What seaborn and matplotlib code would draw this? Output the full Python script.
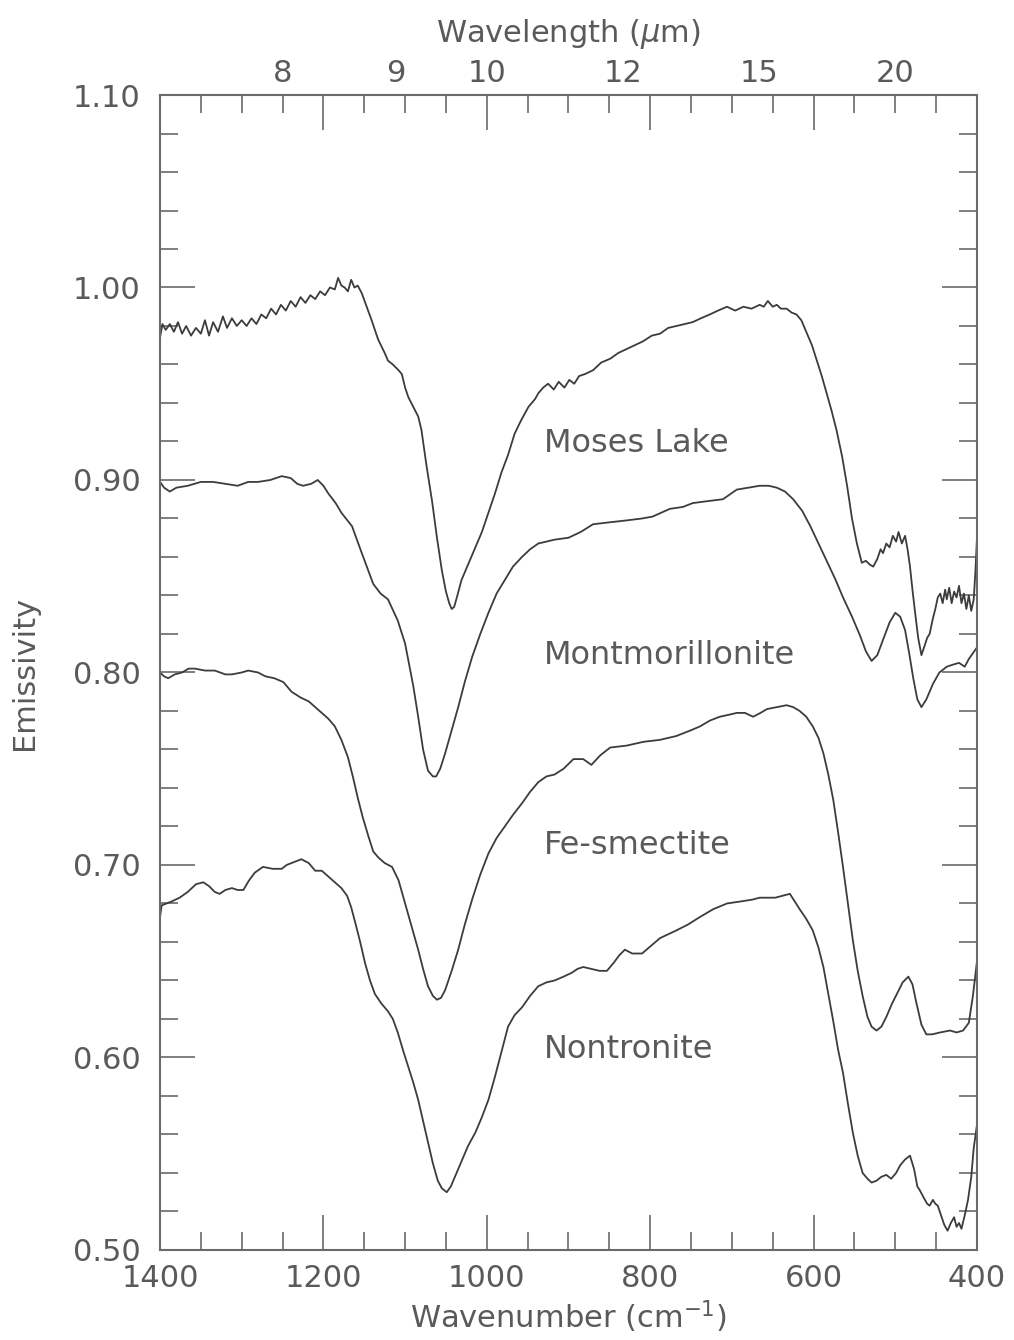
import numpy as np
import pandas as pd
import seaborn as sns
import matplotlib
matplotlib.use("Agg")
import matplotlib.pyplot as plt
from matplotlib.ticker import MultipleLocator, NullLocator, FormatStrFormatter

# Emissivity spectra (wavenumber in cm^-1)
moses_wn = [1400, 1397, 1393, 1388, 1383, 1378, 1373, 1368, 1362, 1356,
            1350, 1345, 1340, 1335, 1329, 1323, 1318, 1312, 1306, 1300,
            1294, 1288, 1282, 1276, 1270, 1264, 1258, 1252, 1246, 1240,
            1234, 1228, 1222, 1216, 1210, 1204, 1198, 1192, 1186, 1182,
            1178, 1174, 1170, 1166, 1162, 1158, 1153, 1147, 1141, 1133,
            1125, 1121, 1115, 1108, 1104, 1100, 1096, 1090, 1084, 1080,
            1074, 1067, 1061, 1055, 1050, 1046, 1043, 1040, 1036, 1031,
            1024, 1014, 1006, 998, 990, 982, 974, 966, 958, 949,
            941, 937, 931, 925, 918, 912, 905, 899, 893, 887,
            880, 870, 860, 849, 839, 829, 819, 809, 798, 788,
            778, 768, 758, 748, 738, 727, 717, 706, 696, 686,
            676, 666, 661, 656, 650, 645, 640, 633, 627, 621,
            615, 608, 602, 596, 590, 584, 578, 572, 565, 559,
            553, 547, 541, 536, 531, 527, 522, 518, 515, 511,
            507, 503, 499, 496, 492, 488, 485, 482, 479, 476,
            472, 468, 464, 461, 458, 454, 451, 448, 445, 442,
            439, 437, 434, 431, 428, 425, 422, 419, 416, 413,
            410, 407, 404, 402, 400]
moses_e = [0.974, 0.981, 0.978, 0.981, 0.977, 0.982, 0.976, 0.980, 0.975, 0.979,
           0.976, 0.983, 0.975, 0.982, 0.977, 0.985, 0.979, 0.984, 0.980, 0.983,
           0.980, 0.984, 0.981, 0.986, 0.984, 0.989, 0.986, 0.991, 0.988, 0.993,
           0.990, 0.995, 0.992, 0.996, 0.994, 0.998, 0.996, 1.000, 0.999, 1.005,
           1.001, 1.000, 0.998, 1.004, 1.000, 1.001, 0.997, 0.990, 0.983, 0.973,
           0.966, 0.962, 0.960, 0.957, 0.955, 0.948, 0.943, 0.938, 0.933, 0.926,
           0.908, 0.889, 0.870, 0.853, 0.842, 0.836, 0.833, 0.834, 0.840, 0.848,
           0.855, 0.865, 0.873, 0.883, 0.893, 0.904, 0.913, 0.924, 0.931, 0.938,
           0.942, 0.945, 0.948, 0.950, 0.947, 0.951, 0.948, 0.952, 0.950, 0.954,
           0.955, 0.957, 0.961, 0.963, 0.966, 0.968, 0.970, 0.972, 0.975, 0.976,
           0.979, 0.980, 0.981, 0.982, 0.984, 0.986, 0.988, 0.990, 0.988, 0.990,
           0.989, 0.991, 0.990, 0.993, 0.990, 0.991, 0.989, 0.989, 0.987, 0.986,
           0.983, 0.976, 0.970, 0.962, 0.954, 0.945, 0.936, 0.926, 0.912, 0.897,
           0.880, 0.867, 0.857, 0.858, 0.856, 0.855, 0.859, 0.864, 0.862, 0.867,
           0.865, 0.871, 0.868, 0.873, 0.867, 0.871, 0.864, 0.855, 0.843, 0.832,
           0.818, 0.809, 0.814, 0.818, 0.820, 0.828, 0.833, 0.839, 0.841, 0.836,
           0.843, 0.838, 0.844, 0.836, 0.842, 0.839, 0.845, 0.836, 0.841, 0.833,
           0.840, 0.832, 0.838, 0.852, 0.870]

montm_wn = [1400, 1395, 1388, 1380, 1366, 1350, 1335, 1320, 1305, 1292,
            1280, 1265, 1251, 1240, 1232, 1225, 1215, 1207, 1200, 1194,
            1185, 1178, 1165, 1153, 1139, 1130, 1121, 1109, 1100, 1090,
            1084, 1078, 1072, 1066, 1062, 1057, 1051, 1043, 1035, 1027,
            1018, 1008, 998, 988, 978, 968, 957, 947, 937, 927,
            917, 900, 885, 870, 850, 829, 810, 797, 776, 760,
            748, 730, 711, 694, 680, 666, 655, 645, 635, 625,
            614, 604, 594, 584, 574, 564, 553, 543, 536, 529,
            522, 515, 507, 500, 494, 488, 483, 478, 473, 468,
            462, 454, 446, 437, 430, 422, 415, 410, 405, 400]
montm_e = [0.899, 0.896, 0.894, 0.896, 0.897, 0.899, 0.899, 0.898, 0.897, 0.899,
           0.899, 0.900, 0.902, 0.901, 0.898, 0.897, 0.898, 0.900, 0.897, 0.893,
           0.888, 0.883, 0.876, 0.862, 0.846, 0.841, 0.838, 0.827, 0.815, 0.793,
           0.777, 0.760, 0.749, 0.746, 0.746, 0.750, 0.758, 0.770, 0.782, 0.795,
           0.808, 0.820, 0.831, 0.841, 0.848, 0.855, 0.860, 0.864, 0.867, 0.868,
           0.869, 0.870, 0.873, 0.877, 0.878, 0.879, 0.880, 0.881, 0.885, 0.886,
           0.888, 0.889, 0.890, 0.895, 0.896, 0.897, 0.897, 0.896, 0.894, 0.890,
           0.884, 0.876, 0.867, 0.858, 0.849, 0.839, 0.829, 0.819, 0.811, 0.806,
           0.809, 0.817, 0.826, 0.831, 0.829, 0.822, 0.810, 0.797, 0.786, 0.782,
           0.786, 0.794, 0.800, 0.803, 0.804, 0.805, 0.803, 0.807, 0.810, 0.813]

fesm_wn = [1400, 1395, 1390, 1382, 1373, 1365, 1357, 1345, 1333, 1320,
           1312, 1300, 1292, 1280, 1271, 1260, 1249, 1239, 1228, 1218,
           1210, 1202, 1194, 1186, 1178, 1170, 1164, 1158, 1152, 1145,
           1139, 1133, 1125, 1116, 1108, 1100, 1092, 1084, 1078, 1072,
           1066, 1061, 1056, 1051, 1043, 1035, 1027, 1018, 1008, 998,
           988, 978, 968, 957, 947, 937, 927, 917, 906, 894,
           882, 872, 861, 849, 829, 808, 788, 768, 750, 739,
           727, 715, 704, 694, 684, 674, 665, 657, 645, 633,
           625, 617, 609, 601, 594, 588, 582, 576, 570, 564,
           558, 552, 546, 540, 534, 529, 523, 517, 511, 504,
           498, 491, 484, 479, 474, 468, 462, 455, 445, 433,
           425, 417, 410, 405, 400]
fesm_e = [0.800, 0.798, 0.797, 0.799, 0.800, 0.802, 0.802, 0.801, 0.801, 0.799,
          0.799, 0.800, 0.801, 0.800, 0.798, 0.797, 0.795, 0.790, 0.787, 0.785,
          0.782, 0.779, 0.776, 0.772, 0.765, 0.756, 0.746, 0.735, 0.725, 0.715,
          0.707, 0.704, 0.701, 0.699, 0.692, 0.680, 0.668, 0.656, 0.646, 0.637,
          0.632, 0.630, 0.631, 0.635, 0.645, 0.656, 0.669, 0.682, 0.695, 0.706,
          0.714, 0.720, 0.726, 0.732, 0.738, 0.743, 0.746, 0.747, 0.750, 0.755,
          0.755, 0.752, 0.757, 0.761, 0.762, 0.764, 0.765, 0.767, 0.770, 0.772,
          0.775, 0.777, 0.778, 0.779, 0.779, 0.777, 0.779, 0.781, 0.782, 0.783,
          0.782, 0.780, 0.777, 0.772, 0.766, 0.758, 0.747, 0.734, 0.717, 0.699,
          0.680, 0.661, 0.645, 0.632, 0.621, 0.616, 0.614, 0.616, 0.621, 0.628,
          0.633, 0.639, 0.642, 0.638, 0.628, 0.617, 0.612, 0.612, 0.613, 0.614,
          0.613, 0.614, 0.618, 0.632, 0.650]

nontr_wn = [1400, 1398, 1392, 1386, 1376, 1366, 1356, 1347, 1340, 1333,
            1327, 1320, 1312, 1305, 1298, 1291, 1284, 1274, 1262, 1251,
            1245, 1239, 1233, 1227, 1218, 1210, 1202, 1194, 1186, 1178,
            1171, 1166, 1161, 1155, 1149, 1143, 1137, 1129, 1121, 1115,
            1109, 1102, 1096, 1090, 1084, 1078, 1072, 1066, 1060, 1055,
            1049, 1044, 1039, 1031, 1023, 1014, 1006, 998, 990, 982,
            974, 966, 957, 947, 937, 927, 917, 906, 896, 889,
            882, 872, 862, 853, 845, 838, 831, 822, 810, 799,
            788, 778, 768, 754, 739, 723, 706, 690, 675, 666,
            657, 647, 638, 629, 623, 617, 609, 601, 594, 588,
            582, 576, 570, 564, 558, 552, 546, 540, 534, 529,
            523, 517, 511, 505, 499, 494, 488, 482, 477, 473,
            470, 465, 461, 458, 454, 451, 448, 444, 440, 436,
            432, 428, 425, 422, 419, 415, 411, 407, 404, 400]
nontr_e = [0.673, 0.679, 0.680, 0.681, 0.683, 0.686, 0.690, 0.691, 0.689, 0.686,
           0.685, 0.687, 0.688, 0.687, 0.687, 0.692, 0.696, 0.699, 0.698, 0.698,
           0.700, 0.701, 0.702, 0.703, 0.701, 0.697, 0.697, 0.694, 0.691, 0.688,
           0.684, 0.678, 0.670, 0.660, 0.649, 0.640, 0.633, 0.628, 0.624, 0.620,
           0.613, 0.603, 0.595, 0.587, 0.578, 0.567, 0.556, 0.545, 0.536, 0.532,
           0.530, 0.533, 0.538, 0.546, 0.554, 0.561, 0.569, 0.578, 0.590, 0.603,
           0.616, 0.622, 0.626, 0.632, 0.637, 0.639, 0.640, 0.642, 0.644, 0.646,
           0.647, 0.646, 0.645, 0.645, 0.649, 0.653, 0.656, 0.654, 0.654, 0.658,
           0.662, 0.664, 0.666, 0.669, 0.673, 0.677, 0.680, 0.681, 0.682, 0.683,
           0.683, 0.683, 0.684, 0.685, 0.681, 0.677, 0.672, 0.666, 0.657, 0.647,
           0.633, 0.619, 0.604, 0.592, 0.576, 0.561, 0.549, 0.540, 0.537, 0.535,
           0.536, 0.538, 0.539, 0.537, 0.540, 0.544, 0.547, 0.549, 0.542, 0.533,
           0.531, 0.527, 0.524, 0.523, 0.526, 0.524, 0.523, 0.518, 0.513, 0.510,
           0.514, 0.517, 0.512, 0.514, 0.511, 0.518, 0.526, 0.538, 0.553, 0.565]

names = ["Moses Lake", "Montmorillonite", "Fe-smectite", "Nontronite"]
label_wn = [930, 930, 930, 930]
label_e = [0.919, 0.809, 0.710, 0.604]
wavelength_ticks = [8, 9, 10, 12, 15, 20]

LINE = "#3c3c3c"
TEXT = "#5a5a5a"
AXIS = "#6a6a6a"

sns.set_theme(style="white")
plt.rcParams["font.family"] = ["DejaVu Sans"]
plt.rcParams["mathtext.fontset"] = "dejavusans"

fig = plt.figure(figsize=(10.14, 13.40), dpi=100)
ax = fig.add_axes([0.1578, 0.0672, 0.8057, 0.8619])

series = [(moses_wn, moses_e), (montm_wn, montm_e), (fesm_wn, fesm_e), (nontr_wn, nontr_e)]
for wn, e in series:
    sns.lineplot(x=wn, y=e, ax=ax, color=LINE, lw=1.3, estimator=None)

for name, x, y in zip(names, label_wn, label_e):
    ax.text(x, y, name, fontsize=23, color=TEXT, ha="left", va="center")

ax.set_xlim(1400, 400)
ax.set_ylim(0.50, 1.10)
ax.xaxis.set_major_locator(MultipleLocator(200))
ax.xaxis.set_minor_locator(MultipleLocator(50))
ax.yaxis.set_major_locator(MultipleLocator(0.1))
ax.yaxis.set_minor_locator(MultipleLocator(0.02))
ax.yaxis.set_major_formatter(FormatStrFormatter("%.2f"))

ax.tick_params(which="both", direction="in", top=True, right=True,
               bottom=True, left=True,
               color=AXIS, width=1.2, labelcolor=TEXT, labelsize=22)
ax.tick_params(which="major", length=25)
ax.tick_params(which="minor", length=13)
ax.tick_params(axis="x", pad=10)
ax.tick_params(axis="y", pad=14)
for sp in ax.spines.values():
    sp.set_color(AXIS)
    sp.set_linewidth(1.5)

ax.set_xlabel(r"Wavenumber (cm$^{-1}$)", fontsize=22, color=TEXT, labelpad=4)
ax.set_ylabel("Emissivity", fontsize=22, color=TEXT, labelpad=24)

secax = ax.secondary_xaxis("top", functions=(lambda w: 1e4 / w, lambda l: 1e4 / l))
secax.set_xticks(wavelength_ticks)
secax.set_xticklabels([str(t) for t in wavelength_ticks])
secax.xaxis.set_minor_locator(NullLocator())
secax.tick_params(length=0, pad=5, labelsize=22, labelcolor=TEXT)
secax.spines["top"].set_visible(False)
secax.set_xlabel(r"Wavelength ($\mu$m)", fontsize=22, color=TEXT, labelpad=12)

fig.savefig("out.png", dpi=100)
